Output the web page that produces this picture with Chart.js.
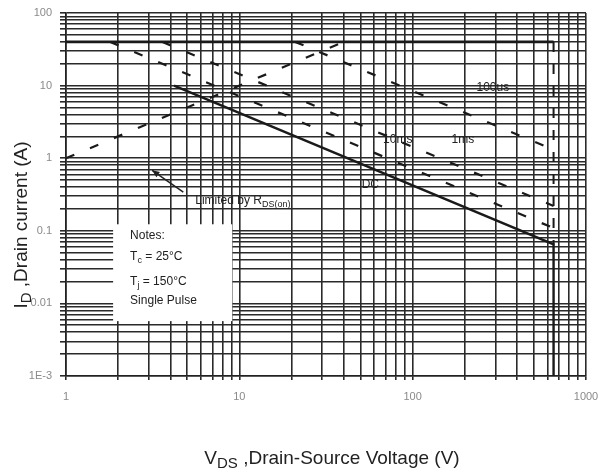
<!DOCTYPE html>
<html>
<head>
    <title>Safe Operating Area</title>
    <script src="https://cdn.jsdelivr.net/npm/chart.js"></script>
    <style>
        body { margin: 0; background: #ffffff; }
        #wrap { width: 601px; height: 471px; }
    </style>
</head>
<body>
    <div id="wrap"><canvas id="soa"></canvas></div>
    <script>
        // axis decades and the minor steps between them
        const xDecades = [1, 10, 100, 1000];
        const yDecades = [0.001, 0.01, 0.1, 1, 10, 100];
        const minorSteps = [2, 3, 4, 5, 6, 7, 8, 9];
        const yTickText = { 0.001: '1E-3', 0.01: '0.01', 0.1: '0.1', 1: '1', 10: '10', 100: '100' };

        // boundary curves: VDS (V) and ID (A)
        const vdsPulseMax = [1, 650];
        const idPulseMax = [40, 40];
        const vdsRds = [1, 40];
        const idRds = [1, 40];
        const vds100us = [21, 650];
        const id100us = [40, 1.31];
        const vds1ms = [3.6, 650];
        const id1ms = [40, 0.22];
        const vds10ms = [1.8, 650];
        const id10ms = [40, 0.109];
        const vdsDC = [4.2, 650, 650];
        const idDC = [10, 0.065, 0.001];
        const vdsBreak = [650, 650];
        const idBreak = [40, 0.065];

        function pts(xs, ys) {
            return xs.map((x, i) => ({ x: x, y: ys[i] }));
        }
        function withMinors(decades) {
            const out = [];
            decades.forEach((d, i) => {
                out.push(d);
                if (i < decades.length - 1) minorSteps.forEach(m => out.push(d * m));
            });
            return out;
        }

        const font = "'Liberation Sans', Arial, sans-serif";

        // draws a string made of normal and subscript parts
        function richText(ctx, parts, x, y, size, align, subScale) {
            const subSize = Math.round(size * (subScale || 0.72));
            let total = 0;
            parts.forEach(p => {
                ctx.font = (p.sub ? subSize : size) + 'px ' + font;
                p.w = ctx.measureText(p.t).width;
                total += p.w;
            });
            let cx = align === 'center' ? x - total / 2 : x;
            ctx.textAlign = 'left';
            ctx.textBaseline = 'alphabetic';
            parts.forEach(p => {
                ctx.font = (p.sub ? subSize : size) + 'px ' + font;
                ctx.fillText(p.t, cx, p.sub ? y + size * 0.22 : y);
                cx += p.w;
            });
        }

        const notesPlugin = {
            id: 'notes',
            beforeDatasetsDraw(chart) {
                const { ctx, scales } = chart;
                const x = scales.x, y = scales.y;
                const l = x.getPixelForValue(1.87), r = x.getPixelForValue(9.1);
                const t = y.getPixelForValue(0.123), b = y.getPixelForValue(0.0057);
                ctx.save();
                ctx.fillStyle = '#ffffff';
                ctx.fillRect(l, t, r - l, b - t);
                ctx.fillStyle = '#222';
                const tx = l + 17;
                richText(ctx, [{ t: 'Notes:' }], tx, t + 15, 12, 'left');
                richText(ctx, [{ t: 'T' }, { t: 'c', sub: true }, { t: ' = 25°C' }], tx, t + 36, 12, 'left');
                richText(ctx, [{ t: 'T' }, { t: 'j', sub: true }, { t: ' = 150°C' }], tx, t + 61, 12, 'left');
                richText(ctx, [{ t: 'Single Pulse' }], tx, t + 80, 12, 'left');
                ctx.restore();
            },
            afterDatasetsDraw(chart) {
                const { ctx, scales } = chart;
                const x = scales.x, y = scales.y;
                const px = v => x.getPixelForValue(v);
                const py = v => y.getPixelForValue(v);
                ctx.save();
                ctx.fillStyle = '#222';
                richText(ctx, [{ t: '100us' }], px(290), py(10) + 5, 12, 'center');
                richText(ctx, [{ t: '1ms' }], px(195), py(1.89) + 5, 12, 'center');
                richText(ctx, [{ t: '10ms' }], px(82), py(1.89) + 5, 12, 'center');
                richText(ctx, [{ t: 'DC' }], px(57), py(0.45) + 5, 12, 'center');
                richText(ctx, [{ t: 'Limited by R' }, { t: 'DS(on)', sub: true }], px(5.57), py(0.264) + 4, 12, 'left');

                // arrow pointing at the RDS(on) line
                const ax0 = px(4.75), ay0 = py(0.34), ax1 = px(3.14), ay1 = py(0.68);
                ctx.strokeStyle = '#222';
                ctx.lineWidth = 1.5;
                ctx.beginPath();
                ctx.moveTo(ax0, ay0);
                ctx.lineTo(ax1, ay1);
                ctx.stroke();
                const ang = Math.atan2(ay1 - ay0, ax1 - ax0);
                ctx.beginPath();
                ctx.moveTo(ax1, ay1);
                ctx.lineTo(ax1 - 8 * Math.cos(ang - 0.4), ay1 - 8 * Math.sin(ang - 0.4));
                ctx.lineTo(ax1 - 8 * Math.cos(ang + 0.4), ay1 - 8 * Math.sin(ang + 0.4));
                ctx.closePath();
                ctx.fill();

                // axis titles
                richText(ctx, [{ t: 'V' }, { t: 'DS', sub: true }, { t: ' ,Drain-Source Voltage (V)' }],
                    332, 464, 19, 'center', 0.78);
                ctx.translate(27, 225);
                ctx.rotate(-Math.PI / 2);
                richText(ctx, [{ t: 'I' }, { t: 'D', sub: true }, { t: ' ,Drain current (A)' }], 0, 0, 19, 'center', 0.78);
                ctx.restore();
            }
        };

        const dashed = [9, 17];
        function series(xs, ys, width, dash) {
            return {
                data: pts(xs, ys),
                borderColor: '#1a1a1a',
                borderWidth: width,
                borderDash: dash,
                pointRadius: 0,
                fill: false,
                tension: 0
            };
        }

        new Chart(document.getElementById('soa'), {
            type: 'line',
            data: {
                datasets: [
                    series(vdsPulseMax, idPulseMax, 2.6, []),
                    series(vdsRds, idRds, 2.2, dashed),
                    series(vds100us, id100us, 2.2, dashed),
                    series(vds1ms, id1ms, 2.2, dashed),
                    series(vds10ms, id10ms, 2.2, dashed),
                    series(vdsDC, idDC, 2.4, []),
                    series(vdsBreak, idBreak, 2, [10, 12])
                ]
            },
            options: {
                responsive: true,
                maintainAspectRatio: false,
                animation: false,
                layout: { padding: { top: 13, right: 15, left: 0, bottom: 0 } },
                plugins: {
                    legend: { display: false },
                    tooltip: { enabled: false }
                },
                scales: {
                    x: {
                        type: 'logarithmic',
                        min: 1,
                        max: 1000,
                        afterBuildTicks: s => { s.ticks = withMinors(xDecades).map(v => ({ value: v })); },
                        afterFit: s => { s.height = 95; s.paddingLeft = 0; s.paddingRight = 0; },
                        border: { color: '#222', width: 1.6 },
                        grid: { color: '#2a2a2a', lineWidth: 1.6, tickLength: 4 },
                        ticks: {
                            autoSkip: false,
                            maxRotation: 0,
                            padding: 10,
                            color: '#8a8a8a',
                            font: { family: font, size: 11 },
                            callback: v => xDecades.includes(v) ? String(v) : ''
                        }
                    },
                    y: {
                        type: 'logarithmic',
                        min: 0.001,
                        max: 100,
                        afterBuildTicks: s => { s.ticks = withMinors(yDecades).map(v => ({ value: v })); },
                        afterFit: s => { s.width = 66; s.paddingTop = 0; s.paddingBottom = 0; },
                        border: { color: '#222', width: 1.6 },
                        grid: { color: '#2a2a2a', lineWidth: 1.6, tickLength: 6 },
                        ticks: {
                            autoSkip: false,
                            padding: 8,
                            color: '#8a8a8a',
                            font: { family: font, size: 11 },
                            callback: v => {
                                const d = yDecades.find(k => Math.abs(k - v) / k < 1e-6);
                                return d !== undefined ? yTickText[d] : '';
                            }
                        }
                    }
                }
            },
            plugins: [notesPlugin]
        });
    </script>
</body>
</html>
